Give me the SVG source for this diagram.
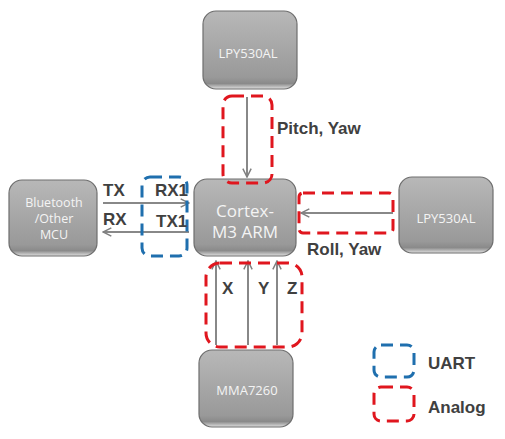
<svg xmlns="http://www.w3.org/2000/svg" width="505" height="439" viewBox="0 0 505 439">
<defs>
<linearGradient id="g" x1="0" y1="0" x2="0" y2="1">
<stop offset="0" stop-color="#b8b8b8"/>
<stop offset="0.85" stop-color="#999999"/>
<stop offset="0.93" stop-color="#8a8a8a"/>
<stop offset="1" stop-color="#e0e0e0"/>
</linearGradient>
<marker id="ah2" viewBox="0 0 12 12" refX="11" refY="6" markerWidth="10" markerHeight="10" orient="auto" markerUnits="userSpaceOnUse">
<path d="M1,1 L11,6 L1,11" fill="none" stroke="#808080" stroke-width="1.8"/>
</marker>
</defs>
<style>
.node rect{fill:url(#g);stroke:#6e6e6e;stroke-width:1.2}
.nt{font-family:"Open Sans","Noto Sans",sans-serif;fill:#f4f4f4;font-size:13px;text-anchor:middle}
.sm{font-size:12.5px}
.big{font-size:17px}
.lbl{font-family:"Liberation Sans",Arial,sans-serif;font-weight:bold;fill:#404040;font-size:17px}
.red{fill:none;stroke:#e0161e;stroke-width:3;stroke-dasharray:12,7}
.blue{fill:none;stroke:#1f6fae;stroke-width:3;stroke-dasharray:12,7}
.ar{stroke:#888888;stroke-width:2;fill:none;marker-end:url(#ah2)}
</style>
<rect width="505" height="439" fill="#ffffff"/>
<g id="node-top" class="node">
<rect x="203" y="11" width="94" height="78" rx="13"/>
<text class="nt" x="248" y="58">LPY530AL</text>
</g>
<g id="node-cortex" class="node">
<rect x="194" y="179" width="102" height="77" rx="13"/>
<text class="nt big" x="245" y="217">Cortex-</text>
<text class="nt big" x="245" y="238">M3 ARM</text>
</g>
<g id="node-right" class="node">
<rect x="399" y="177" width="94" height="76" rx="13"/>
<text class="nt" x="446" y="223">LPY530AL</text>
</g>
<g id="node-left" class="node">
<rect x="9" y="180" width="88" height="76" rx="13"/>
<text class="nt sm" x="54" y="207">Bluetooth</text>
<text class="nt sm" x="54" y="223">/Other</text>
<text class="nt sm" x="54" y="239">MCU</text>
</g>
<g id="node-bottom" class="node">
<rect x="199" y="350" width="94" height="77" rx="13"/>
<text class="nt" x="247" y="395">MMA7260</text>
</g>
<g id="connectors">
<line class="ar" x1="247" y1="97" x2="247" y2="177"/>
<line class="ar" x1="393" y1="213" x2="301" y2="213"/>
<line class="ar" x1="103" y1="203" x2="189" y2="203"/>
<line class="ar" x1="189" y1="232" x2="103" y2="232"/>
<line class="ar" x1="216" y1="345" x2="216" y2="261"/>
<line class="ar" x1="248" y1="345" x2="248" y2="261"/>
<line class="ar" x1="277" y1="345" x2="277" y2="261"/>
</g>
<g id="groups">
<rect class="red" x="223" y="96" width="49" height="87" rx="9"/>
<rect class="red" x="299" y="193" width="94" height="40" rx="4"/>
<rect class="red" x="206" y="263" width="96" height="84" rx="14"/>
<rect class="blue" x="142" y="177" width="45" height="79" rx="8"/>
</g>
<g id="labels">
<text class="lbl" x="277" y="134">Pitch, Yaw</text>
<text class="lbl" x="307" y="255">Roll, Yaw</text>
<text class="lbl" x="103" y="196">TX</text>
<text class="lbl" x="155" y="196">RX1</text>
<text class="lbl" x="103" y="225">RX</text>
<text class="lbl" x="156" y="227">TX1</text>
<text class="lbl" x="222" y="294">X</text>
<text class="lbl" x="258" y="294">Y</text>
<text class="lbl" x="287" y="294">Z</text>
</g>
<g id="legend">
<rect class="blue" x="374" y="345" width="40" height="32" rx="7"/>
<rect class="red" x="374" y="387" width="40" height="34" rx="7"/>
<text class="lbl" x="428" y="369">UART</text>
<text class="lbl" x="428" y="413">Analog</text>
</g>
</svg>
